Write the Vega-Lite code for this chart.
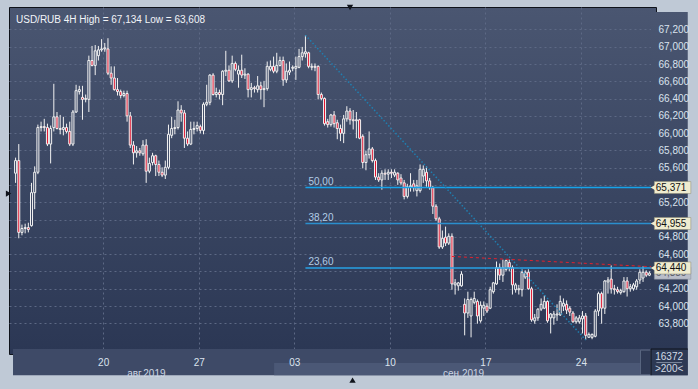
{
"$schema": "https://vega.github.io/schema/vega-lite/v6.json",
"width": 647, "height": 347,
"autosize": {"type": "none"},
"padding": {"left": 9, "top": 7, "right": 42, "bottom": 35},
"background": "#bfc9d6",
"config": {
  "locale": {"number": {"decimal": ",", "thousands": "\u00a0", "grouping": [3], "currency": ["", ""]}},
  "view": {"fill": {"gradient": "linear", "x1": 0, "y1": 0, "x2": 0, "y2": 1, "stops": [{"offset": 0, "color": "#4a5671"}, {"offset": 1, "color": "#2b3754"}]}, "stroke": "#0e121a", "strokeWidth": 1},
  "font": "Liberation Sans",
  "text": {"font": "Liberation Sans"}
},
"datasets": {
  "candles": [
{"i":0,"o":65.537,"h":65.717,"l":65.425,"c":65.683},
{"i":1,"o":65.683,"h":65.874,"l":64.784,"c":64.852},
{"i":2,"o":64.852,"h":64.942,"l":64.818,"c":64.897},
{"i":3,"o":64.897,"h":64.953,"l":64.841,"c":64.908},
{"i":4,"o":64.908,"h":64.964,"l":64.852,"c":64.885},
{"i":5,"o":64.930,"h":65.425,"l":64.919,"c":65.312},
{"i":6,"o":65.312,"h":65.616,"l":65.121,"c":65.548},
{"i":7,"o":65.548,"h":66.099,"l":65.526,"c":66.065},
{"i":8,"o":66.065,"h":66.133,"l":66.020,"c":66.076},
{"i":9,"o":66.076,"h":66.166,"l":66.020,"c":66.065},
{"i":10,"o":66.065,"h":66.110,"l":65.851,"c":65.874},
{"i":11,"o":65.874,"h":66.088,"l":65.650,"c":66.054},
{"i":12,"o":66.065,"h":66.571,"l":66.020,"c":66.189},
{"i":13,"o":66.189,"h":66.245,"l":66.043,"c":66.054},
{"i":14,"o":66.054,"h":66.211,"l":65.987,"c":66.043},
{"i":15,"o":66.043,"h":66.189,"l":65.975,"c":66.065},
{"i":16,"o":66.065,"h":66.110,"l":65.998,"c":66.020},
{"i":17,"o":66.020,"h":66.133,"l":65.851,"c":65.874},
{"i":18,"o":65.874,"h":66.268,"l":65.851,"c":66.245},
{"i":19,"o":66.245,"h":66.560,"l":66.234,"c":66.492},
{"i":20,"o":66.481,"h":66.548,"l":66.447,"c":66.504},
{"i":21,"o":66.414,"h":66.548,"l":66.155,"c":66.391},
{"i":22,"o":66.391,"h":66.447,"l":66.357,"c":66.402},
{"i":23,"o":66.391,"h":66.897,"l":66.245,"c":66.841},
{"i":24,"o":66.841,"h":67.009,"l":66.773,"c":66.784},
{"i":25,"o":66.784,"h":67.020,"l":66.672,"c":66.953},
{"i":26,"o":66.897,"h":67.009,"l":66.841,"c":66.964},
{"i":27,"o":66.964,"h":67.088,"l":66.942,"c":66.975},
{"i":28,"o":66.975,"h":67.043,"l":66.942,"c":66.987},
{"i":29,"o":66.975,"h":67.099,"l":66.672,"c":66.694},
{"i":30,"o":66.694,"h":66.773,"l":66.560,"c":66.638},
{"i":31,"o":66.638,"h":66.773,"l":66.492,"c":66.504},
{"i":32,"o":66.504,"h":66.638,"l":66.436,"c":66.481},
{"i":33,"o":66.481,"h":66.504,"l":66.402,"c":66.436},
{"i":34,"o":66.436,"h":66.492,"l":66.414,"c":66.459},
{"i":35,"o":66.459,"h":66.492,"l":66.133,"c":66.200},
{"i":36,"o":66.200,"h":66.245,"l":65.829,"c":65.862},
{"i":37,"o":65.862,"h":65.908,"l":65.638,"c":65.773},
{"i":38,"o":65.773,"h":65.851,"l":65.717,"c":65.796},
{"i":39,"o":65.796,"h":65.829,"l":65.739,"c":65.773},
{"i":40,"o":65.762,"h":65.919,"l":65.739,"c":65.862},
{"i":41,"o":65.862,"h":65.930,"l":65.425,"c":65.560},
{"i":42,"o":65.560,"h":65.717,"l":65.537,"c":65.650},
{"i":43,"o":65.661,"h":65.773,"l":65.627,"c":65.739},
{"i":44,"o":65.739,"h":65.751,"l":65.504,"c":65.638},
{"i":45,"o":65.638,"h":65.683,"l":65.504,"c":65.548},
{"i":46,"o":65.548,"h":65.605,"l":65.492,"c":65.515},
{"i":47,"o":65.515,"h":65.683,"l":65.470,"c":65.605},
{"i":48,"o":65.605,"h":66.099,"l":65.582,"c":65.987},
{"i":49,"o":65.975,"h":66.189,"l":65.942,"c":66.054},
{"i":50,"o":66.054,"h":66.155,"l":65.987,"c":66.065},
{"i":51,"o":66.065,"h":66.369,"l":66.043,"c":66.268},
{"i":52,"o":66.268,"h":66.324,"l":66.133,"c":66.234},
{"i":53,"o":66.234,"h":66.268,"l":65.829,"c":65.942},
{"i":54,"o":65.942,"h":66.020,"l":65.851,"c":65.874},
{"i":55,"o":65.874,"h":66.133,"l":65.862,"c":66.043},
{"i":56,"o":66.043,"h":66.133,"l":65.987,"c":66.054},
{"i":57,"o":66.054,"h":66.133,"l":66.020,"c":66.088},
{"i":58,"o":66.076,"h":66.099,"l":65.998,"c":66.032},
{"i":59,"o":66.032,"h":66.357,"l":65.987,"c":66.335},
{"i":60,"o":66.335,"h":66.560,"l":66.312,"c":66.357},
{"i":61,"o":66.357,"h":66.683,"l":66.324,"c":66.672},
{"i":62,"o":66.672,"h":66.694,"l":66.436,"c":66.447},
{"i":63,"o":66.447,"h":66.526,"l":66.414,"c":66.470},
{"i":64,"o":66.470,"h":66.504,"l":66.391,"c":66.447},
{"i":65,"o":66.447,"h":66.728,"l":66.324,"c":66.717},
{"i":66,"o":66.717,"h":66.953,"l":66.661,"c":66.728},
{"i":67,"o":66.728,"h":66.784,"l":66.593,"c":66.605},
{"i":68,"o":66.605,"h":66.897,"l":66.582,"c":66.807},
{"i":69,"o":66.807,"h":66.829,"l":66.717,"c":66.739},
{"i":70,"o":66.683,"h":66.784,"l":66.526,"c":66.728},
{"i":71,"o":66.728,"h":66.908,"l":66.638,"c":66.672},
{"i":72,"o":66.672,"h":66.751,"l":66.627,"c":66.683},
{"i":73,"o":66.683,"h":66.694,"l":66.414,"c":66.504},
{"i":74,"o":66.504,"h":66.582,"l":66.414,"c":66.526},
{"i":75,"o":66.526,"h":66.548,"l":66.470,"c":66.515},
{"i":76,"o":66.504,"h":66.661,"l":66.470,"c":66.548},
{"i":77,"o":66.548,"h":66.593,"l":66.391,"c":66.504},
{"i":78,"o":66.504,"h":66.605,"l":66.301,"c":66.515},
{"i":79,"o":66.515,"h":66.829,"l":66.492,"c":66.773},
{"i":80,"o":66.739,"h":66.841,"l":66.717,"c":66.773},
{"i":81,"o":66.773,"h":66.886,"l":66.694,"c":66.717},
{"i":82,"o":66.717,"h":66.930,"l":66.694,"c":66.784},
{"i":83,"o":66.784,"h":66.886,"l":66.773,"c":66.841},
{"i":84,"o":66.841,"h":66.886,"l":66.548,"c":66.616},
{"i":85,"o":66.616,"h":66.807,"l":66.582,"c":66.717},
{"i":86,"o":66.706,"h":66.829,"l":66.672,"c":66.728},
{"i":87,"o":66.751,"h":66.784,"l":66.717,"c":66.762},
{"i":88,"o":66.751,"h":66.886,"l":66.616,"c":66.773},
{"i":89,"o":66.762,"h":66.975,"l":66.751,"c":66.886},
{"i":90,"o":66.886,"h":66.998,"l":66.841,"c":66.930},
{"i":91,"o":66.919,"h":67.134,"l":66.874,"c":66.942},
{"i":92,"o":66.930,"h":66.942,"l":66.751,"c":66.773},
{"i":93,"o":66.762,"h":66.807,"l":66.728,"c":66.773},
{"i":94,"o":66.773,"h":66.807,"l":66.717,"c":66.762},
{"i":95,"o":66.773,"h":66.784,"l":66.391,"c":66.447},
{"i":96,"o":66.447,"h":66.470,"l":66.380,"c":66.402},
{"i":97,"o":66.402,"h":66.414,"l":66.088,"c":66.110},
{"i":98,"o":66.133,"h":66.166,"l":66.065,"c":66.099},
{"i":99,"o":66.099,"h":66.223,"l":66.076,"c":66.211},
{"i":100,"o":66.211,"h":66.256,"l":66.065,"c":66.110},
{"i":101,"o":66.121,"h":66.155,"l":65.930,"c":66.054},
{"i":102,"o":66.054,"h":66.099,"l":65.908,"c":65.998},
{"i":103,"o":65.998,"h":66.211,"l":65.885,"c":66.166},
{"i":104,"o":66.166,"h":66.312,"l":66.133,"c":66.256},
{"i":105,"o":66.256,"h":66.290,"l":66.099,"c":66.155},
{"i":106,"o":66.155,"h":66.268,"l":66.043,"c":66.144},
{"i":107,"o":66.144,"h":66.245,"l":65.942,"c":66.155},
{"i":108,"o":66.155,"h":66.166,"l":65.930,"c":65.942},
{"i":109,"o":65.964,"h":65.987,"l":65.593,"c":65.661},
{"i":110,"o":65.661,"h":65.796,"l":65.571,"c":65.751},
{"i":111,"o":65.751,"h":66.020,"l":65.706,"c":65.818},
{"i":112,"o":65.818,"h":65.840,"l":65.661,"c":65.683},
{"i":113,"o":65.683,"h":65.706,"l":65.459,"c":65.492},
{"i":114,"o":65.492,"h":65.537,"l":65.436,"c":65.459},
{"i":115,"o":65.459,"h":65.571,"l":65.346,"c":65.537},
{"i":116,"o":65.537,"h":65.582,"l":65.459,"c":65.526},
{"i":117,"o":65.526,"h":65.582,"l":65.459,"c":65.548},
{"i":118,"o":65.548,"h":65.582,"l":65.481,"c":65.537},
{"i":119,"o":65.515,"h":65.582,"l":65.492,"c":65.548},
{"i":120,"o":65.537,"h":65.548,"l":65.402,"c":65.459},
{"i":121,"o":65.481,"h":65.526,"l":65.402,"c":65.425},
{"i":122,"o":65.425,"h":65.459,"l":65.234,"c":65.268},
{"i":123,"o":65.268,"h":65.414,"l":65.245,"c":65.380},
{"i":124,"o":65.380,"h":65.537,"l":65.324,"c":65.391},
{"i":125,"o":65.414,"h":65.459,"l":65.324,"c":65.369},
{"i":126,"o":65.335,"h":65.459,"l":65.268,"c":65.391},
{"i":127,"o":65.335,"h":65.638,"l":65.312,"c":65.582},
{"i":128,"o":65.504,"h":65.627,"l":65.425,"c":65.582},
{"i":129,"o":65.548,"h":65.616,"l":65.380,"c":65.448},
{"i":130,"o":65.448,"h":65.481,"l":65.346,"c":65.369},
{"i":131,"o":65.369,"h":65.391,"l":65.065,"c":65.155},
{"i":132,"o":65.155,"h":65.178,"l":64.987,"c":65.009},
{"i":133,"o":65.009,"h":65.032,"l":64.661,"c":64.683},
{"i":134,"o":64.683,"h":64.874,"l":64.661,"c":64.784},
{"i":135,"o":64.796,"h":64.919,"l":64.694,"c":64.728},
{"i":136,"o":64.728,"h":64.841,"l":64.706,"c":64.807},
{"i":137,"o":64.807,"h":64.841,"l":64.189,"c":64.256},
{"i":138,"o":64.245,"h":64.312,"l":64.133,"c":64.268},
{"i":139,"o":64.234,"h":64.279,"l":64.178,"c":64.268},
{"i":140,"o":64.234,"h":64.402,"l":64.223,"c":64.369},
{"i":141,"o":64.020,"h":64.088,"l":63.661,"c":63.919},
{"i":142,"o":63.919,"h":64.166,"l":63.863,"c":64.076},
{"i":143,"o":63.885,"h":64.099,"l":63.638,"c":64.076},
{"i":144,"o":64.043,"h":64.166,"l":64.020,"c":64.088},
{"i":145,"o":64.054,"h":64.076,"l":63.796,"c":63.885},
{"i":146,"o":63.829,"h":64.054,"l":63.807,"c":64.009},
{"i":147,"o":63.975,"h":64.054,"l":63.885,"c":64.009},
{"i":148,"o":63.998,"h":64.032,"l":63.919,"c":63.942},
{"i":149,"o":63.975,"h":64.223,"l":63.964,"c":64.189},
{"i":150,"o":64.166,"h":64.279,"l":64.144,"c":64.268},
{"i":151,"o":64.256,"h":64.515,"l":64.245,"c":64.447},
{"i":152,"o":64.447,"h":64.492,"l":64.301,"c":64.357},
{"i":153,"o":64.357,"h":64.537,"l":64.279,"c":64.447},
{"i":154,"o":64.425,"h":64.537,"l":64.402,"c":64.526},
{"i":155,"o":64.503,"h":64.537,"l":64.402,"c":64.447},
{"i":156,"o":64.447,"h":64.470,"l":64.133,"c":64.245},
{"i":157,"o":64.189,"h":64.268,"l":64.155,"c":64.245},
{"i":158,"o":64.189,"h":64.245,"l":64.133,"c":64.200},
{"i":159,"o":64.189,"h":64.425,"l":64.110,"c":64.391},
{"i":160,"o":64.335,"h":64.414,"l":64.312,"c":64.391},
{"i":161,"o":64.391,"h":64.425,"l":64.189,"c":64.200},
{"i":162,"o":64.200,"h":64.223,"l":63.818,"c":63.840},
{"i":163,"o":63.829,"h":63.908,"l":63.796,"c":63.863},
{"i":164,"o":63.863,"h":63.975,"l":63.829,"c":63.964},
{"i":165,"o":63.964,"h":64.088,"l":63.942,"c":64.020},
{"i":166,"o":63.975,"h":64.121,"l":63.964,"c":64.054},
{"i":167,"o":64.054,"h":64.065,"l":63.807,"c":63.829},
{"i":168,"o":63.863,"h":63.919,"l":63.683,"c":63.908},
{"i":169,"o":63.863,"h":63.942,"l":63.784,"c":63.908},
{"i":170,"o":63.897,"h":64.020,"l":63.829,"c":63.908},
{"i":171,"o":63.897,"h":64.121,"l":63.885,"c":64.054},
{"i":172,"o":63.998,"h":64.088,"l":63.942,"c":64.032},
{"i":173,"o":64.020,"h":64.065,"l":63.908,"c":63.953},
{"i":174,"o":63.975,"h":63.998,"l":63.885,"c":63.930},
{"i":175,"o":63.919,"h":63.942,"l":63.807,"c":63.818},
{"i":176,"o":63.818,"h":63.885,"l":63.796,"c":63.863},
{"i":177,"o":63.818,"h":63.897,"l":63.796,"c":63.863},
{"i":178,"o":63.852,"h":63.942,"l":63.683,"c":63.885},
{"i":179,"o":63.885,"h":63.919,"l":63.608,"c":63.661},
{"i":180,"o":63.638,"h":63.694,"l":63.638,"c":63.672},
{"i":181,"o":63.638,"h":63.683,"l":63.616,"c":63.672},
{"i":182,"o":63.650,"h":63.964,"l":63.638,"c":63.942},
{"i":183,"o":63.942,"h":64.166,"l":63.885,"c":64.144},
{"i":184,"o":64.144,"h":64.166,"l":63.796,"c":63.975},
{"i":185,"o":63.975,"h":64.301,"l":63.908,"c":64.290},
{"i":186,"o":64.279,"h":64.335,"l":64.144,"c":64.301},
{"i":187,"o":64.312,"h":64.470,"l":64.144,"c":64.200},
{"i":188,"o":64.200,"h":64.245,"l":64.133,"c":64.189},
{"i":189,"o":64.189,"h":64.223,"l":64.144,"c":64.166},
{"i":190,"o":64.155,"h":64.200,"l":64.133,"c":64.178},
{"i":191,"o":64.166,"h":64.335,"l":64.155,"c":64.290},
{"i":192,"o":64.290,"h":64.335,"l":64.110,"c":64.200},
{"i":193,"o":64.200,"h":64.256,"l":64.166,"c":64.223},
{"i":194,"o":64.200,"h":64.268,"l":64.178,"c":64.245},
{"i":195,"o":64.223,"h":64.312,"l":64.189,"c":64.290},
{"i":196,"o":64.301,"h":64.425,"l":64.256,"c":64.391},
{"i":197,"o":64.324,"h":64.459,"l":64.279,"c":64.391},
{"i":198,"o":64.391,"h":64.414,"l":64.335,"c":64.357},
{"i":199,"o":64.357,"h":64.402,"l":64.346,"c":64.380}
  ],
  "fib": [{"level": 50, "p": 65.371}, {"level": 38.2, "p": 64.955}, {"level": 23.6, "p": 64.440}],
  "swing": [{"i": 91, "p": 67.134}, {"i": 179, "p": 63.608}],
  "trend": [{"i": 137, "p": 64.574}, {"i": 199.5, "p": 64.455}],
  "last": [{"p": 64.380}]
},
"layer": [
  {"data": {"values": [{}]}, "mark": {"type": "rect", "fill": "#3e4a67"},
   "encoding": {"x": {"datum": -0.81, "type": "quantitative", "scale": {"domain": [-0.5, 199.5], "nice": false, "zero": false}, "axis": null}, "x2": {"datum": 211.04},
                "y": {"datum": 63.2, "type": "quantitative", "scale": {"domain": [63.503, 67.402], "nice": false, "zero": false}, "axis": null}, "y2": {"datum": 63.503}}},
  {"data": {"values": [{}]}, "mark": {"type": "rect", "fill": "#4b5876"},
   "encoding": {"x": {"datum": 81.16, "type": "quantitative", "scale": {"domain": [-0.5, 199.5], "nice": false, "zero": false}, "axis": null}, "x2": {"datum": 196.2},
                "y": {"datum": 63.2, "type": "quantitative", "scale": {"domain": [63.503, 67.402], "nice": false, "zero": false}, "axis": null}, "y2": {"datum": 63.342}}},
  {"data": {"values": [{}]}, "mark": {"type": "rect", "fill": "#2f3a55", "stroke": "#5a6680", "strokeWidth": 1},
   "encoding": {"x": {"datum": 196.2, "type": "quantitative", "scale": {"domain": [-0.5, 199.5], "nice": false, "zero": false}, "axis": null}, "x2": {"datum": 199.5},
                "y": {"datum": 63.205, "type": "quantitative", "scale": {"domain": [63.503, 67.402], "nice": false, "zero": false}, "axis": null}, "y2": {"datum": 63.49}}},
  {"data": {"values": [{}]}, "mark": {"type": "rect", "fill": "#2d3954"},
   "encoding": {"x": {"datum": 199.5, "type": "quantitative", "scale": {"domain": [-0.5, 199.5], "nice": false, "zero": false}, "axis": null}, "x2": {"datum": 211.04},
                "y": {"datum": 63.2, "type": "quantitative", "scale": {"domain": [63.503, 67.402], "nice": false, "zero": false}, "axis": null}, "y2": {"datum": 63.503}}},
  {"data": {"values": [{}]}, "mark": {"type": "rect", "fill": {"gradient": "linear", "x1": 0, "y1": 0, "x2": 0, "y2": 1, "stops": [{"offset": 0, "color": "#4a5671"}, {"offset": 1, "color": "#2b3754"}]}},
   "encoding": {"x": {"datum": 199.5, "type": "quantitative", "scale": {"domain": [-0.5, 199.5], "nice": false, "zero": false}, "axis": null}, "x2": {"datum": 211.04},
                "y": {"datum": 63.503, "type": "quantitative", "scale": {"domain": [63.503, 67.402], "nice": false, "zero": false}, "axis": null}, "y2": {"datum": 67.402}}},
  {"data": {"name": "candles"}, "mark": {"type": "rule", "color": "#f2f2f2", "strokeWidth": 1},
   "encoding": {
     "x": {"field": "i", "type": "quantitative", "scale": {"domain": [-0.5, 199.5], "nice": false, "zero": false},
           "axis": {"orient": "bottom", "values": [27.5, 57.5, 87.5, 117.5, 147.5, 177.5], "grid": true, "gridColor": "#5d6985", "gridDash": [2, 3], "gridWidth": 1, "labels": false, "ticks": false, "tickSize": 0, "domain": false, "title": null, "zindex": 0}},
     "y": {"field": "l", "type": "quantitative", "scale": {"domain": [63.503, 67.402], "nice": false, "zero": false},
           "axis": {"orient": "right", "values": [63.8, 64.0, 64.2, 64.4, 64.6, 64.8, 65.0, 65.2, 65.4, 65.6, 65.8, 66.0, 66.2, 66.4, 66.6, 66.8, 67.0, 67.2], "grid": true, "gridColor": "#5d6985", "gridDash": [2, 3], "gridWidth": 1, "labels": false, "ticks": false, "tickSize": 0, "domain": false, "title": null, "zindex": 0}},
     "y2": {"field": "h"}}},
  {"data": {"name": "candles"}, "mark": {"type": "bar", "size": 2, "stroke": "#f2f2f2", "strokeWidth": 1},
   "encoding": {
     "x": {"field": "i", "type": "quantitative", "scale": {"domain": [-0.5, 199.5], "nice": false, "zero": false},
           "axis": {"orient": "bottom", "values": [27.5, 57.5, 87.5, 117.5, 147.5, 177.5], "labelExpr": "['20','27','03','10','17','24'][round((datum.value-27.5)/30)]", "grid": false, "ticks": false, "tickSize": 0, "domain": false, "title": null, "labelColor": "#dbe3ee", "labelFont": "Liberation Sans", "labelFontSize": 10, "labelBaseline": "middle", "labelPadding": 8.7, "labelFlush": false, "labelOverlap": false, "zindex": 1}},
     "y": {"field": "o", "type": "quantitative", "scale": {"domain": [63.503, 67.402], "nice": false, "zero": false},
           "axis": {"orient": "right", "values": [63.8, 64.0, 64.2, 64.6, 64.8, 65.2, 65.6, 65.8, 66.0, 66.2, 66.4, 66.6, 66.8, 67.0, 67.2], "format": ".3f", "grid": false, "ticks": false, "tickSize": 0, "domain": false, "title": null, "labelColor": "#dbe3ee", "labelFont": "Liberation Sans", "labelFontSize": 10, "labelAlign": "left", "labelBaseline": "middle", "labelPadding": 2, "labelFlush": false, "labelOverlap": false, "zindex": 1}},
     "y2": {"field": "c"},
     "fill": {"condition": {"test": "datum.c < datum.o", "value": "#e0102c"}, "field": "c", "type": "quantitative", "scale": {"domain": [63.503, 67.402], "range": ["#2b3754", "#4a5671"], "interpolate": "rgb"}, "legend": null}}},
  {"data": {"name": "fib"}, "mark": {"type": "rule", "strokeWidth": 1.5},
   "encoding": {"x": {"datum": 91, "type": "quantitative", "scale": {"domain": [-0.5, 199.5], "nice": false, "zero": false}, "axis": null}, "x2": {"datum": 199.5},
                "y": {"field": "p", "type": "quantitative", "scale": {"domain": [63.503, 67.402], "nice": false, "zero": false}, "axis": null},
                "color": {"field": "level", "type": "nominal", "scale": {"domain": [50, 38.2, 23.6], "range": ["#16a3ea", "#2b8fcd", "#27a2e4"]}, "legend": null}}},
  {"data": {"name": "fib"}, "mark": {"type": "text", "align": "left", "baseline": "bottom", "dx": 3, "dy": -1, "fontSize": 10, "color": "#b2cde6"},
   "encoding": {"x": {"datum": 91, "type": "quantitative", "scale": {"domain": [-0.5, 199.5], "nice": false, "zero": false}, "axis": null},
                "y": {"field": "p", "type": "quantitative", "scale": {"domain": [63.503, 67.402], "nice": false, "zero": false}, "axis": null},
                "text": {"field": "level", "type": "quantitative", "format": ".2f"}}},
  {"data": {"name": "swing"}, "mark": {"type": "line", "color": "#1f7fb0", "strokeWidth": 1.5, "strokeDash": [1.5, 2]},
   "encoding": {"x": {"field": "i", "type": "quantitative", "scale": {"domain": [-0.5, 199.5], "nice": false, "zero": false},
                      "axis": {"orient": "bottom", "values": [40.9, 140.5], "labelExpr": "datum.value < 100 ? 'авг.2019' : 'сен.2019'", "grid": false, "ticks": false, "tickSize": 0, "domain": false, "title": null, "labelColor": "#ccd5e2", "labelFont": "Liberation Sans", "labelFontSize": 10, "labelBaseline": "middle", "labelPadding": 19.3, "labelFlush": false, "labelOverlap": false, "zindex": 1}},
                "y": {"field": "p", "type": "quantitative", "scale": {"domain": [63.503, 67.402], "nice": false, "zero": false}, "axis": null}}},
  {"data": {"name": "trend"}, "mark": {"type": "line", "color": "#e3212c", "strokeWidth": 1, "strokeDash": [3, 3]},
   "encoding": {"x": {"field": "i", "type": "quantitative", "scale": {"domain": [-0.5, 199.5], "nice": false, "zero": false}, "axis": null},
                "y": {"field": "p", "type": "quantitative", "scale": {"domain": [63.503, 67.402], "nice": false, "zero": false}, "axis": null}}},
  {"data": {"name": "last"}, "mark": {"type": "bar", "size": 12, "fill": "#b9bdc9", "stroke": "#8a8f9c", "strokeWidth": 0.5},
   "encoding": {"x": {"datum": 200.55, "type": "quantitative", "scale": {"domain": [-0.5, 199.5], "nice": false, "zero": false}, "axis": null}, "x2": {"datum": 212},
                "y": {"field": "p", "type": "quantitative", "scale": {"domain": [63.503, 67.402], "nice": false, "zero": false}, "axis": null}}},
  {"data": {"name": "last"}, "mark": {"type": "text", "align": "left", "baseline": "middle", "fontSize": 10, "color": "#555a66"},
   "encoding": {"x": {"datum": 201.0, "type": "quantitative", "scale": {"domain": [-0.5, 199.5], "nice": false, "zero": false}, "axis": null},
                "y": {"field": "p", "type": "quantitative", "scale": {"domain": [63.503, 67.402], "nice": false, "zero": false}, "axis": null},
                "text": {"field": "p", "type": "quantitative", "format": ".3f"}}},
  {"data": {"name": "fib"}, "mark": {"type": "bar", "size": 12, "fill": "#efecd0", "stroke": "#8d8a70", "strokeWidth": 0.5},
   "encoding": {"x": {"datum": 200.55, "type": "quantitative", "scale": {"domain": [-0.5, 199.5], "nice": false, "zero": false}, "axis": null}, "x2": {"datum": 212},
                "y": {"field": "p", "type": "quantitative", "scale": {"domain": [63.503, 67.402], "nice": false, "zero": false}, "axis": null}}},
  {"data": {"name": "fib"}, "mark": {"type": "point", "shape": "triangle-left", "filled": true, "color": "#efecd0", "size": 45, "opacity": 1},
   "encoding": {"x": {"datum": 200.3, "type": "quantitative", "scale": {"domain": [-0.5, 199.5], "nice": false, "zero": false}, "axis": null},
                "y": {"field": "p", "type": "quantitative", "scale": {"domain": [63.503, 67.402], "nice": false, "zero": false}, "axis": null}}},
  {"data": {"name": "fib"}, "mark": {"type": "text", "align": "left", "baseline": "middle", "fontSize": 10, "color": "#111111"},
   "encoding": {"x": {"datum": 201.0, "type": "quantitative", "scale": {"domain": [-0.5, 199.5], "nice": false, "zero": false}, "axis": null},
                "y": {"field": "p", "type": "quantitative", "scale": {"domain": [63.503, 67.402], "nice": false, "zero": false}, "axis": null},
                "text": {"field": "p", "type": "quantitative", "format": ".3f"}}},
  {"data": {"values": [{}]}, "mark": {"type": "text", "align": "left", "baseline": "middle", "dx": 2, "fontSize": 10, "color": "#f2f4f8"},
   "encoding": {"x": {"datum": -0.5, "type": "quantitative", "scale": {"domain": [-0.5, 199.5], "nice": false, "zero": false}, "axis": null},
                "y": {"datum": 67.312, "type": "quantitative", "scale": {"domain": [63.503, 67.402], "nice": false, "zero": false}, "axis": null},
                "text": {"value": "USD/RUB 4H High = 67,134 Low = 63,608"}}},
  {"data": {"values": [{}]}, "mark": {"type": "text", "align": "center", "baseline": "middle", "fontSize": 10, "color": "#d3dbe6"},
   "encoding": {"x": {"datum": 205.2, "type": "quantitative", "scale": {"domain": [-0.5, 199.5], "nice": false, "zero": false}, "axis": null},
                "y": {"datum": 63.413, "type": "quantitative", "scale": {"domain": [63.503, 67.402], "nice": false, "zero": false}, "axis": null},
                "text": {"value": "16372"}}},
  {"data": {"values": [{}]}, "mark": {"type": "text", "align": "center", "baseline": "middle", "fontSize": 10, "color": "#d3dbe6"},
   "encoding": {"x": {"datum": 205.2, "type": "quantitative", "scale": {"domain": [-0.5, 199.5], "nice": false, "zero": false}, "axis": null},
                "y": {"datum": 63.267, "type": "quantitative", "scale": {"domain": [63.503, 67.402], "nice": false, "zero": false}, "axis": null},
                "text": {"value": ">200<"}}},
  {"data": {"values": [{}]}, "mark": {"type": "rule", "color": "#7f8ba0", "strokeWidth": 1},
   "encoding": {"x": {"datum": 201.2, "type": "quantitative", "scale": {"domain": [-0.5, 199.5], "nice": false, "zero": false}, "axis": null}, "x2": {"datum": 209.2},
                "y": {"datum": 63.346, "type": "quantitative", "scale": {"domain": [63.503, 67.402], "nice": false, "zero": false}, "axis": null}}},
  {"data": {"values": [{}]}, "mark": {"type": "rule", "color": "#0e121a", "strokeWidth": 1},
   "encoding": {"x": {"datum": 199.5, "type": "quantitative", "scale": {"domain": [-0.5, 199.5], "nice": false, "zero": false}, "axis": null},
                "y": {"datum": 63.2, "type": "quantitative", "scale": {"domain": [63.503, 67.402], "nice": false, "zero": false}, "axis": null}, "y2": {"datum": 63.503}}},
  {"data": {"values": [{}]}, "mark": {"type": "rule", "color": "#0e121a", "strokeWidth": 1},
   "encoding": {"x": {"datum": 199.5, "type": "quantitative", "scale": {"domain": [-0.5, 199.5], "nice": false, "zero": false}, "axis": null}, "x2": {"datum": 211.04},
                "y": {"datum": 63.503, "type": "quantitative", "scale": {"domain": [63.503, 67.402], "nice": false, "zero": false}, "axis": null}}},
  {"data": {"values": [{}]}, "mark": {"type": "point", "shape": "triangle-right", "filled": true, "color": "#10141c", "size": 40, "opacity": 1},
   "encoding": {"x": {"datum": -2.2, "type": "quantitative", "scale": {"domain": [-0.5, 199.5], "nice": false, "zero": false}, "axis": null},
                "y": {"datum": 65.301, "type": "quantitative", "scale": {"domain": [63.503, 67.402], "nice": false, "zero": false}, "axis": null}}},
  {"data": {"values": [{}]}, "mark": {"type": "point", "shape": "triangle-down", "filled": true, "color": "#10141c", "size": 40, "opacity": 1},
   "encoding": {"x": {"datum": 105.0, "type": "quantitative", "scale": {"domain": [-0.5, 199.5], "nice": false, "zero": false}, "axis": null},
                "y": {"datum": 67.453, "type": "quantitative", "scale": {"domain": [63.503, 67.402], "nice": false, "zero": false}, "axis": null}}},
  {"data": {"values": [{}]}, "mark": {"type": "point", "shape": "triangle-up", "filled": true, "color": "#10141c", "size": 40, "opacity": 1},
   "encoding": {"x": {"datum": 105.8, "type": "quantitative", "scale": {"domain": [-0.5, 199.5], "nice": false, "zero": false}, "axis": null},
                "y": {"datum": 63.143, "type": "quantitative", "scale": {"domain": [63.503, 67.402], "nice": false, "zero": false}, "axis": null}}}
],
"resolve": {"axis": {"x": "independent", "y": "independent"}}
}
